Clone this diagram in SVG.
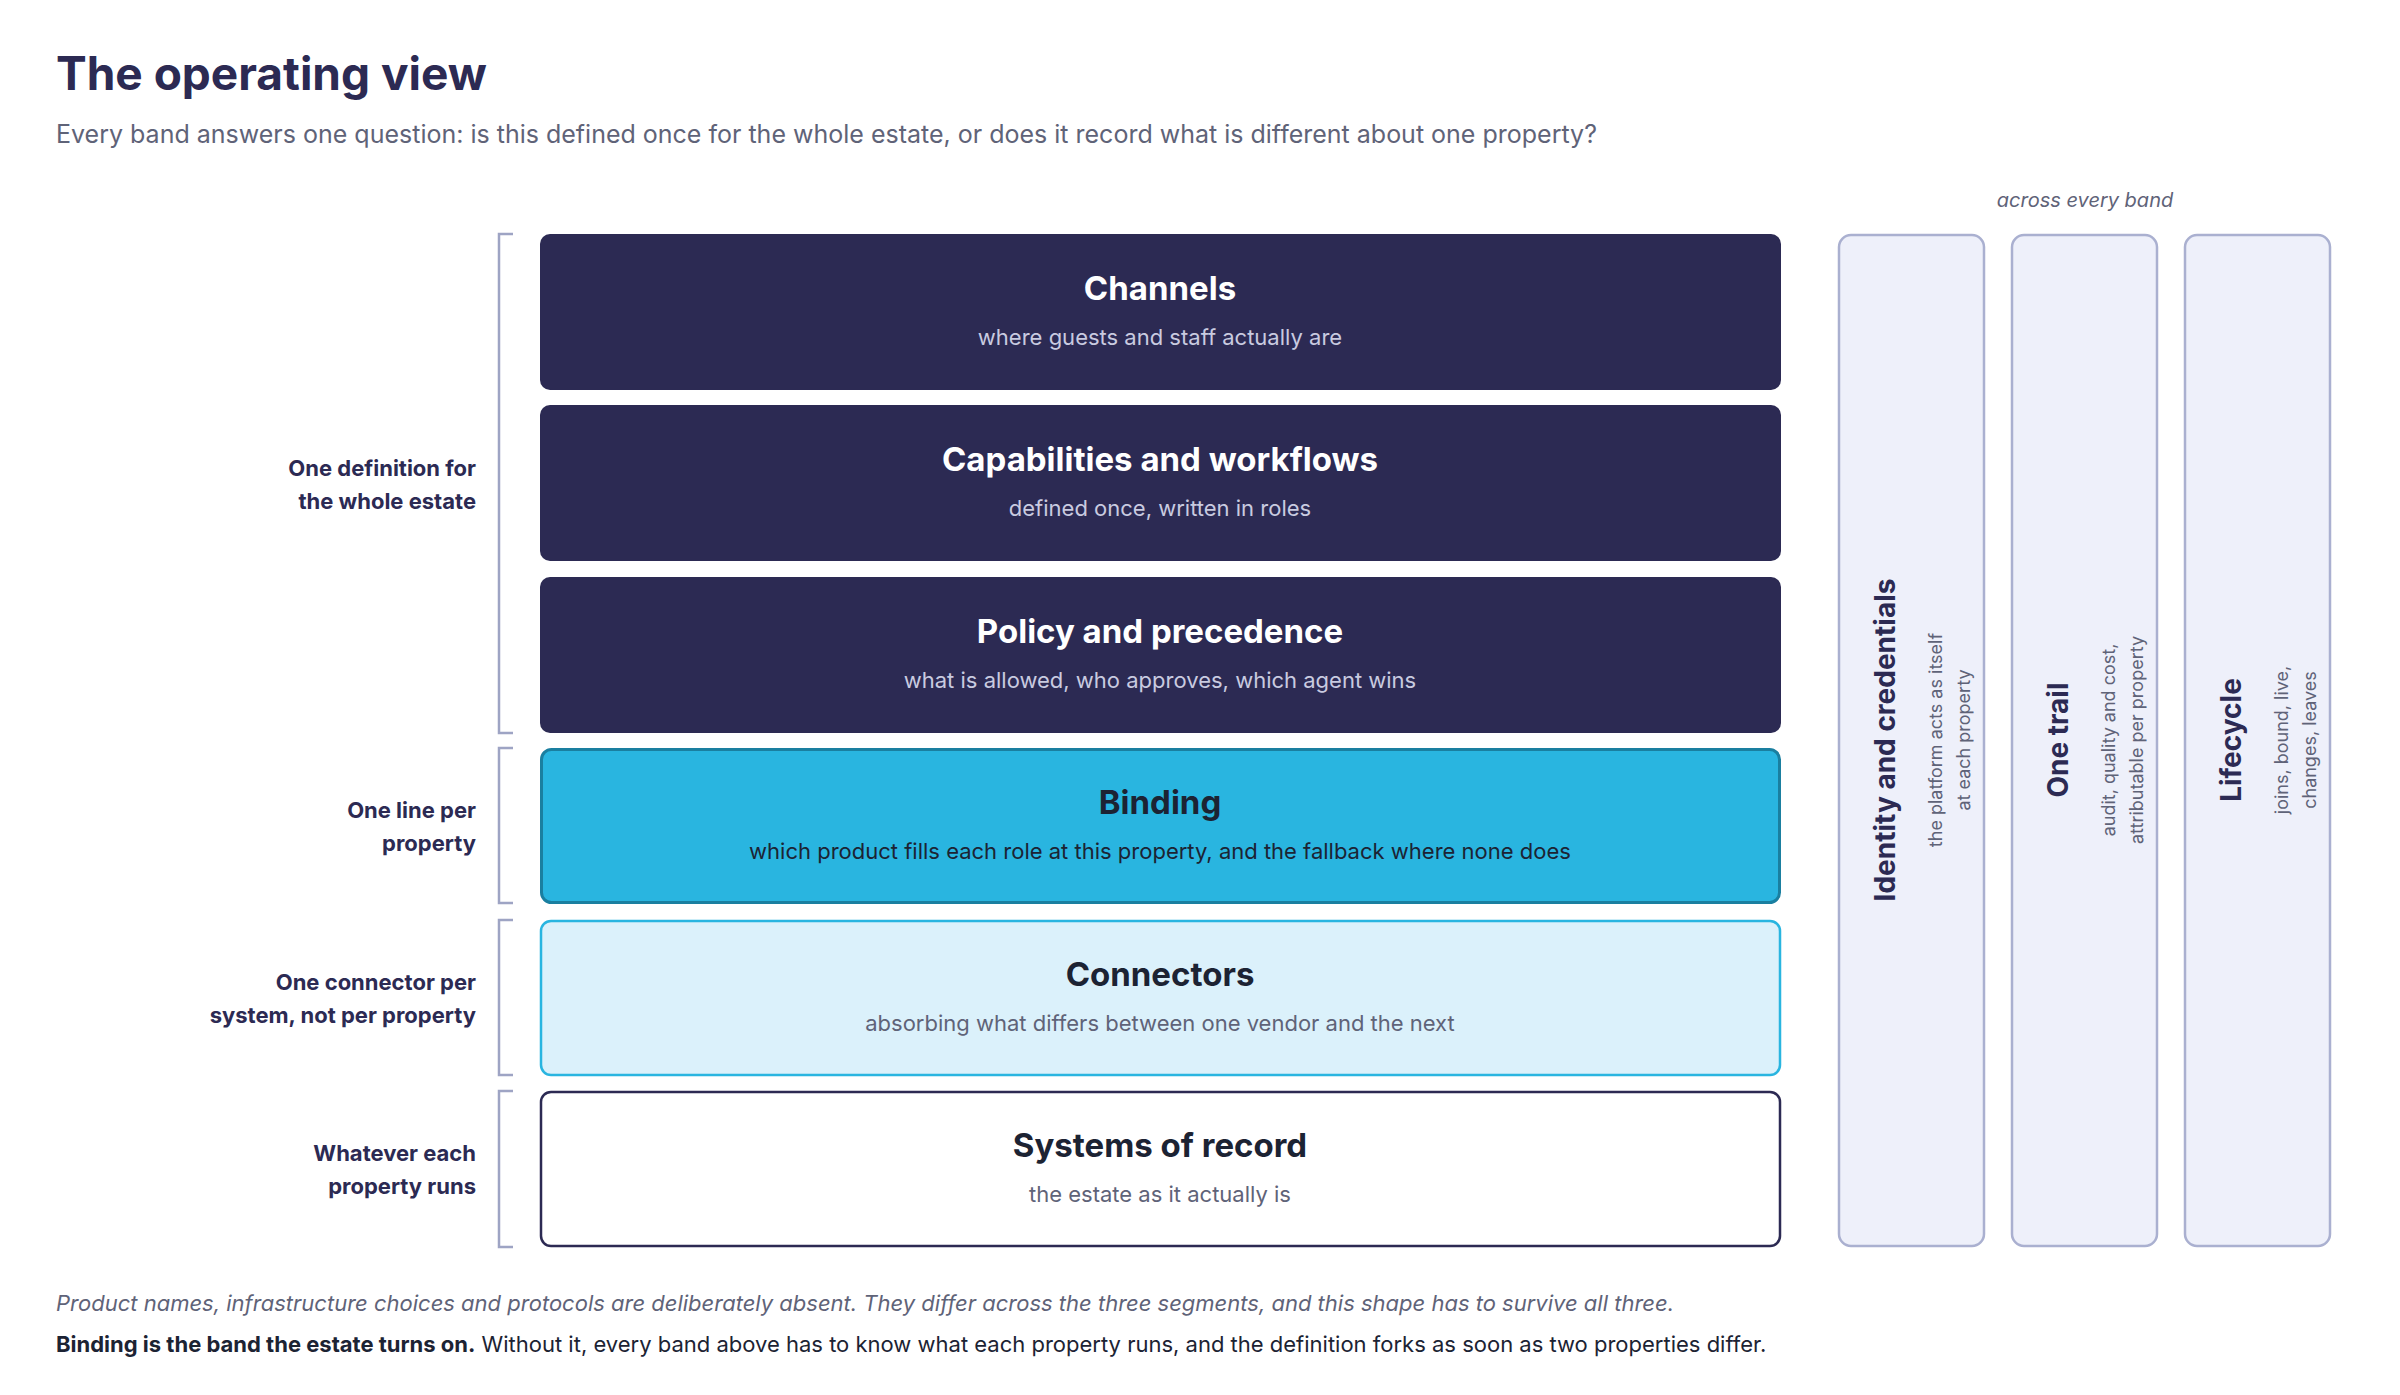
<svg xmlns="http://www.w3.org/2000/svg" width="2400" height="1395" viewBox="0 0 2400 1395">
<style>
text{font-family:Inter,"Liberation Sans",sans-serif}
.bt{font-size:33px;font-weight:700;text-anchor:middle}
.bs{font-size:22px;text-anchor:middle}
.lab{font-size:22px;font-weight:700;fill:#2c2a53;text-anchor:end}
.br{fill:none;stroke:#9ea4c4;stroke-width:2.5}
.side{fill:#eef0fa;stroke:#aab0d0;stroke-width:2.5}
.vt{font-size:28px;font-weight:700;fill:#2c2a53;text-anchor:middle}
.vs{font-size:18px;fill:#5f6378;text-anchor:middle}
</style>
<rect width="2400" height="1395" fill="#fff"/>
<text x="56" y="90" font-size="46" font-weight="700" fill="#2c2a53">The operating view</text>
<text x="56" y="143" font-size="25" fill="#5f6378">Every band answers one question: is this defined once for the whole estate, or does it record what is different about one property?</text>

<g id="brackets">
<path class="br" d="M513 234H499V733H513"/>
<path class="br" d="M513 748H499V903H513"/>
<path class="br" d="M513 920H499V1075H513"/>
<path class="br" d="M513 1091H499V1247H513"/>
<text class="lab" x="476" y="476">One definition for</text>
<text class="lab" x="476" y="509">the whole estate</text>
<text class="lab" x="476" y="818">One line per</text>
<text class="lab" x="476" y="851">property</text>
<text class="lab" x="476" y="990">One connector per</text>
<text class="lab" x="476" y="1023">system, not per property</text>
<text class="lab" x="476" y="1161">Whatever each</text>
<text class="lab" x="476" y="1194">property runs</text>
</g>

<g id="channels"><rect x="540" y="234" width="1241" height="156" rx="10" fill="#2c2a53"/>
<text class="bt" x="1160" y="300" fill="#fff">Channels</text><text class="bs" x="1160" y="345" fill="#c9cbe0">where guests and staff actually are</text></g>
<g id="capabilities"><rect x="540" y="405" width="1241" height="156" rx="10" fill="#2c2a53"/>
<text class="bt" x="1160" y="471" fill="#fff">Capabilities and workflows</text><text class="bs" x="1160" y="516" fill="#c9cbe0">defined once, written in roles</text></g>
<g id="policy"><rect x="540" y="577" width="1241" height="156" rx="10" fill="#2c2a53"/>
<text class="bt" x="1160" y="643" fill="#fff">Policy and precedence</text><text class="bs" x="1160" y="688" fill="#c9cbe0">what is allowed, who approves, which agent wins</text></g>
<g id="binding"><rect x="541.5" y="749.5" width="1238" height="153" rx="10" fill="#29b5e0" stroke="#1a7fa0" stroke-width="3"/>
<text class="bt" x="1160" y="814" fill="#1c2333">Binding</text><text class="bs" x="1160" y="859" fill="#1c2333">which product fills each role at this property, and the fallback where none does</text></g>
<g id="connectors"><rect x="541" y="921" width="1239" height="154" rx="10" fill="#dbf1fb" stroke="#29b5e0" stroke-width="2.5"/>
<text class="bt" x="1160" y="986" fill="#1c2333">Connectors</text><text class="bs" x="1160" y="1031" fill="#5f6378">absorbing what differs between one vendor and the next</text></g>
<g id="systems"><rect x="541" y="1092" width="1239" height="154" rx="10" fill="#fff" stroke="#2c2a53" stroke-width="2.5"/>
<text class="bt" x="1160" y="1157" fill="#1c2333">Systems of record</text><text class="bs" x="1160" y="1202" fill="#5f6378">the estate as it actually is</text></g>

<text x="2085" y="207" font-size="20" font-style="italic" fill="#5f6378" text-anchor="middle">across every band</text>
<g id="identity"><rect class="side" x="1839" y="235" width="145" height="1011" rx="12"/>
<text class="vt" transform="translate(1895,740) rotate(-90)">Identity and credentials</text>
<text class="vs" transform="translate(1942,740) rotate(-90)">the platform acts as itself</text>
<text class="vs" transform="translate(1970,740) rotate(-90)">at each property</text></g>
<g id="trail"><rect class="side" x="2012" y="235" width="145" height="1011" rx="12"/>
<text class="vt" transform="translate(2068,740) rotate(-90)">One trail</text>
<text class="vs" transform="translate(2115,740) rotate(-90)">audit, quality and cost,</text>
<text class="vs" transform="translate(2143,740) rotate(-90)">attributable per property</text></g>
<g id="lifecycle"><rect class="side" x="2185" y="235" width="145" height="1011" rx="12"/>
<text class="vt" transform="translate(2241,740) rotate(-90)">Lifecycle</text>
<text class="vs" transform="translate(2288,740) rotate(-90)">joins, bound, live,</text>
<text class="vs" transform="translate(2316,740) rotate(-90)">changes, leaves</text></g>
<g id="connectors-lines"/>

<text x="56" y="1311" font-size="22" font-style="italic" fill="#5f6378">Product names, infrastructure choices and protocols are deliberately absent. They differ across the three segments, and this shape has to survive all three.</text>
<text x="56" y="1352" font-size="22" fill="#1c2333"><tspan font-weight="700">Binding is the band the estate turns on.</tspan> Without it, every band above has to know what each property runs, and the definition forks as soon as two properties differ.</text>
</svg>
